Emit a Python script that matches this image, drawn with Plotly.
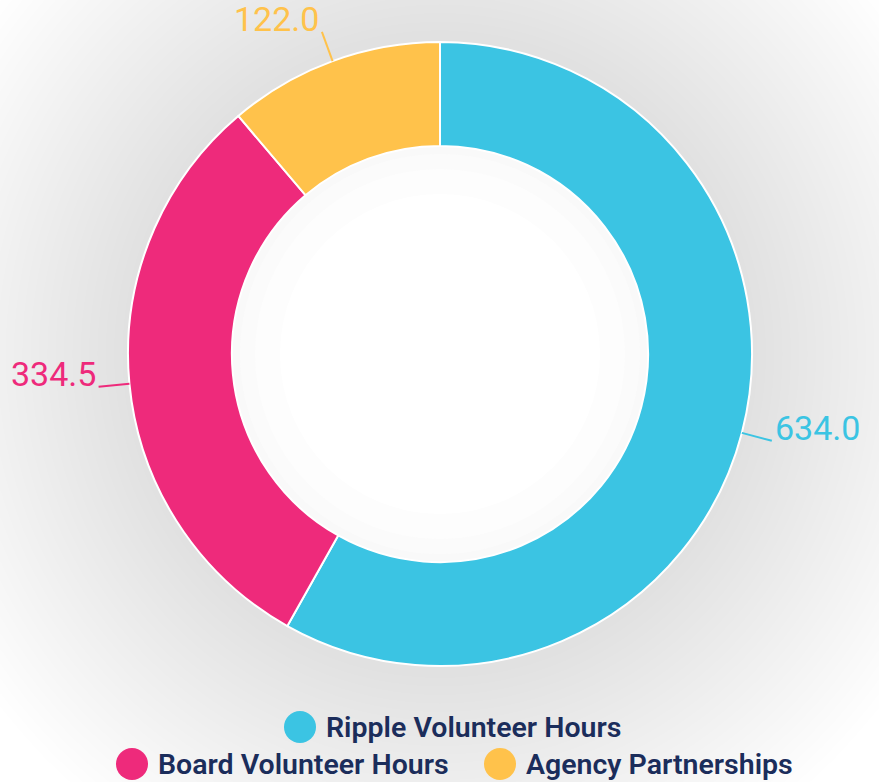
import math
import plotly.graph_objects as go

categories = ["Ripple Volunteer Hours", "Board Volunteer Hours", "Agency Partnerships"]
values = [634.0, 334.5, 122.0]
value_labels = ["634.0", "334.5", "122.0"]
colors = ["#3BC4E3", "#EE2A7B", "#FFC24B"]

W, H = 879, 782
CX, CY, R = 440, 354, 312          # pie centre / radius in pixels
HOLE = 0.667
LEAD = 31                           # leader line length in px

def px(x):
    return x / W

def py(y):
    return 1 - y / H

fig = go.Figure()
fig.add_trace(go.Pie(
    labels=categories,
    values=values,
    marker=dict(colors=colors, line=dict(color="white", width=2)),
    hole=HOLE,
    sort=False,
    direction="clockwise",
    rotation=0,
    textinfo="none",
    hoverinfo="label+value",
    showlegend=False,
    domain=dict(x=[px(CX - R), px(CX + R)], y=[py(CY + R), py(CY - R)]),
))

shapes = []
# soft background shading (smooth radial gradient around the ring)
n = 30
for k in range(n):
    rr = 560 - k * (560 - 318) / (n - 1)
    shapes.append(dict(type="circle", xref="paper", yref="paper", layer="below",
                       x0=px(CX - rr), x1=px(CX + rr), y0=py(CY + rr * 1.02), y1=py(CY - rr * 1.02),
                       fillcolor="rgba(0,0,0,0.0021)", line=dict(width=0)))
# inner hole: light glow
for rr, c in [(210, "#F9F9F9"), (200, "#FBFBFB"), (185, "#FDFDFD"), (160, "#FFFFFF")]:
    shapes.append(dict(type="circle", xref="paper", yref="paper", layer="below",
                       x0=px(CX - rr), x1=px(CX + rr), y0=py(CY + rr), y1=py(CY - rr),
                       fillcolor=c, line=dict(width=0)))

# outside value labels with leader lines, positioned from the data
total = sum(values)
cum = 0.0
annotations = []
for v, lab, col in zip(values, value_labels, colors):
    mid = (cum + v / 2) / total * 2 * math.pi
    cum += v
    sx, sy = math.sin(mid), math.cos(mid)
    x0p, y0p = CX + R * sx, CY - R * sy
    x1p, y1p = CX + (R + LEAD) * sx, CY - (R + LEAD) * sy
    shapes.append(dict(type="line", xref="paper", yref="paper",
                       x0=px(x0p), y0=py(y0p), x1=px(x1p), y1=py(y1p),
                       line=dict(color=col, width=2)))
    annotations.append(dict(
        x=px(x1p + (2 if sx >= 0 else -2)), y=py(y1p), xref="paper", yref="paper",
        text=lab, showarrow=False,
        xanchor="left" if sx >= 0 else "right", yanchor="bottom", yshift=-8,
        font=dict(family="Roboto", size=34, color=col),
        borderpad=0,
    ))

# custom legend (centered rows)
legend_pos = {0: (300, 727), 1: (132, 764), 2: (500, 764)}
for i in range(len(categories)):
    lx, ly = legend_pos[i]
    shapes.append(dict(type="circle", xref="paper", yref="paper",
                       x0=px(lx - 16), x1=px(lx + 16), y0=py(ly + 16), y1=py(ly - 16),
                       fillcolor=colors[i], line=dict(width=0)))
    annotations.append(dict(
        x=px(lx + 24), y=py(ly), xref="paper", yref="paper",
        text=categories[i], showarrow=False, xanchor="left", yanchor="middle",
        font=dict(family="Roboto", size=28.5, color="#1B2D5B", weight=600),
    ))

fig.update_layout(
    width=W, height=H,
    margin=dict(l=0, r=0, t=0, b=0),
    paper_bgcolor="#FFFFFF",
    plot_bgcolor="#FFFFFF",
    annotations=annotations,
    shapes=shapes,
)

fig.write_html("out.html", config={"displayModeBar": False},
               post_script="document.body.style.margin='0';")
